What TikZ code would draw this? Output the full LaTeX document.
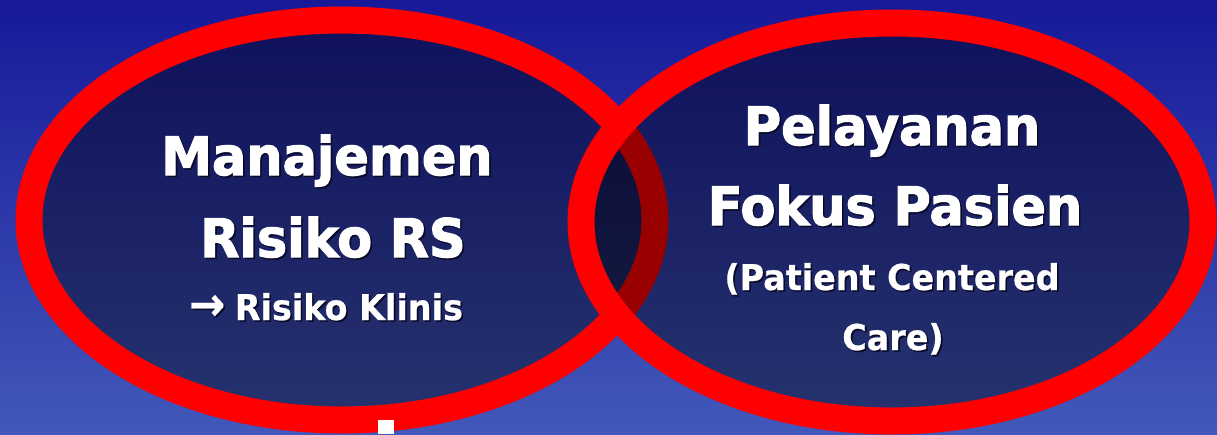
\documentclass[tikz,border=0pt]{standalone}
\usepackage{fontspec}
\newfontfamily\heavyfont{DejaVu Sans Bold}[FakeStretch=0.96, FakeBold=2.2]
\newfontfamily\subfont{DejaVu Sans Bold}[FakeStretch=0.94, FakeBold=0.6]
\definecolor{bgtop}{RGB}{23,25,152}
\definecolor{bgbot}{RGB}{66,88,186}
\definecolor{ringred}{RGB}{255,0,0}
\definecolor{shadowc}{RGB}{8,10,40}
\newcommand\shtxt[1]{\makebox[0pt][l]{\hspace*{1.6pt}\raisebox{-1.6pt}{\color{shadowc}#1}}#1}
\tikzset{
  ring/.style={draw=ringred, line width=27pt, fill=black, fill opacity=0.4, draw opacity=1},
  bigtxt/.style={text=white, font=\heavyfont\fontsize{53}{60}\selectfont, anchor=base, inner sep=0pt},
  smalltxt/.style={text=white, font=\subfont\fontsize{35.5}{40}\selectfont, anchor=base, inner sep=0pt},
  bar/.style={fill=white, draw=none}
}
\begin{document}
\begin{tikzpicture}[x=1pt,y=-1pt]
\useasboundingbox (0,0) rectangle (1217,434);
% background
\shade[top color=bgtop, bottom color=bgbot] (0,0) rectangle (1217,434);
% ellipses
\path[ring] (342,220) ellipse [x radius=313pt, y radius=200pt];
\path[ring] (892,222) ellipse [x radius=311pt, y radius=199pt];
% left text
\node[bigtxt] (t1) at (327,175) {\shtxt{Manajemen}};
\node[bigtxt] (t2) at (333,257) {\shtxt{Risiko RS}};
\node[smalltxt] (t3) at (326,320) {\shtxt{{\fontsize{46}{46}\selectfont →}\hspace{-2pt} Risiko Klinis}};
% right text
\node[bigtxt] (r1) at (892,145) {\shtxt{Pelayanan}};
\node[bigtxt] (r2) at (895,225) {\shtxt{Fokus Pasien}};
\node[smalltxt] (r3) at (892,290) {\shtxt{(Patient Centered}};
\node[smalltxt] (r4) at (893,350) {\shtxt{Care)}};
% white bar at bottom
\path[bar] (378,420) rectangle (394,434);
\end{tikzpicture}
\end{document}
